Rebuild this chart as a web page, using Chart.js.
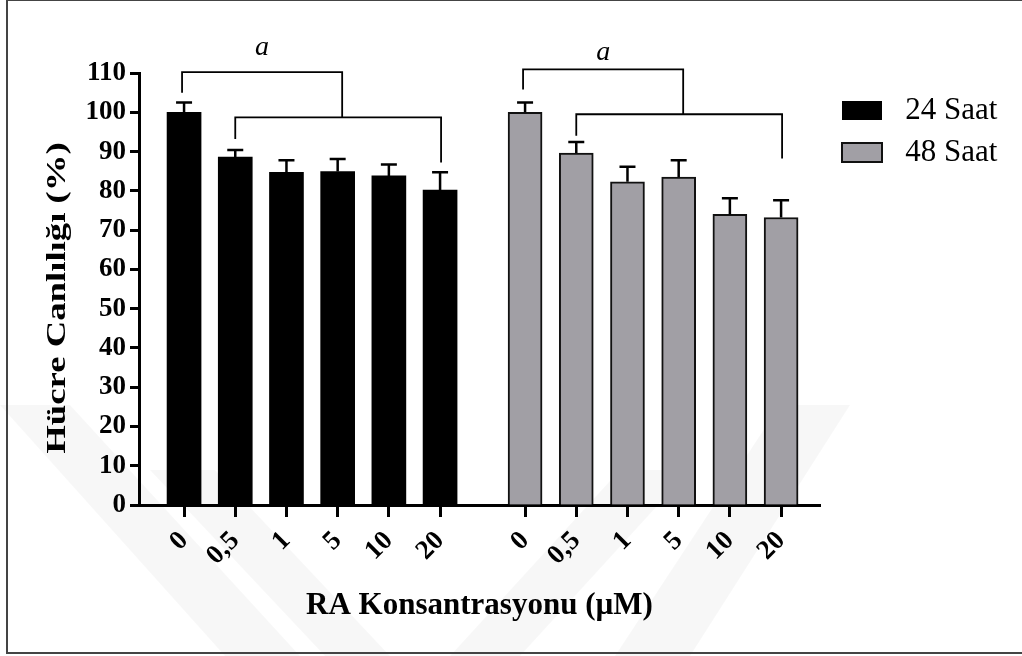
<!DOCTYPE html>
<html>
<head>
<meta charset="utf-8">
<script src="https://cdn.jsdelivr.net/npm/chart.js@4.4.1/dist/chart.umd.min.js"></script>
<style>
  html, body { margin: 0; padding: 0; background: #fff; }
  canvas { display: block; }
</style>
</head>
<body>
<canvas id="chart" width="1022" height="656"></canvas>
<script>
// RA concentrations (µM) tested at each time point
const concentrations = ['0', '0,5', '1', '5', '10', '20'];
const seriesNames = ['24 Saat', '48 Saat'];

// Cell viability (%) and standard deviation
const viability24 = [100, 88.6, 84.7, 84.9, 83.8, 80.2];
const sd24 = [2.5, 1.8, 3.1, 3.2, 2.9, 4.5];
const viability48 = [100, 89.6, 82.3, 83.5, 74.0, 73.2];
const sd48 = [2.5, 2.8, 3.8, 4.3, 4.1, 4.4];

const yTicks = [0, 10, 20, 30, 40, 50, 60, 70, 80, 90, 100, 110];

// Significance brackets (value units):
// [outer line, control leg end, inner line, inner left leg end, inner right leg end, label baseline]
const bracket24 = [110.2, 105.0, 98.7, 93.2, 87.2, 114.6];
const bracket48 = [110.9, 105.8, 99.5, 94.0, 88.2, 113.4];
const sigLabel = 'a';

const FONT = "'Liberation Serif', 'Times New Roman', Times, serif";
const GROUP_GAP = 0.66;
const slot = (g, i) => g * (concentrations.length + GROUP_GAP) + i;

const tickPositions = [];
const tickLabels = [];
[0, 1].forEach(g => concentrations.forEach((c, i) => {
  tickPositions.push(slot(g, i));
  tickLabels.push(c);
}));
const toPoints = (g, vals) => vals.map((v, i) => ({ x: slot(g, i), y: v }));

// white page, faint watermark and the outer frame
const pageBackground = {
  id: 'pageBackground',
  beforeDraw(chart) {
    const ctx = chart.ctx;
    ctx.save();
    ctx.fillStyle = '#fff';
    ctx.fillRect(0, 0, chart.width, chart.height);
    ctx.fillStyle = 'rgba(0,0,0,0.03)';
    const bands = [
      [[0, 405], [70, 405], [300, 656], [225, 656]],
      [[150, 470], [215, 470], [390, 656], [325, 656]],
      [[780, 405], [850, 405], [690, 656], [615, 656]],
      [[620, 470], [690, 470], [520, 656], [450, 656]]
    ];
    bands.forEach(p => {
      ctx.beginPath();
      ctx.moveTo(p[0][0], p[0][1]);
      for (let k = 1; k < p.length; k++) ctx.lineTo(p[k][0], p[k][1]);
      ctx.closePath();
      ctx.fill();
    });
    ctx.strokeStyle = '#444';
    ctx.lineWidth = 2;
    ctx.strokeRect(7, 0, 1040, 653);
    ctx.restore();

    // y axis title is drawn stretched along its length
    const ys = chart.scales.y;
    if (ys && !ys._wideTitle) {
      ys.drawTitle = function () {
        const c = this.ctx;
        const t = this.options.title;
        const f = Chart.helpers.toFont(t.font);
        c.save();
        c.translate(this.left + f.lineHeight / 2, (this.top + this.bottom) / 2 + 9);
        c.rotate(-Math.PI / 2);
        c.scale(1.36, 1);
        c.font = f.string;
        c.fillStyle = t.color;
        c.textAlign = 'center';
        c.textBaseline = 'middle';
        c.fillText(t.text, 0, 0);
        c.restore();
      };
      ys._wideTitle = true;
    }
  }
};

// SD error bars (upper whisker only)
const errorBars = {
  id: 'errorBars',
  afterDatasetsDraw(chart) {
    const { ctx, scales: { y } } = chart;
    ctx.save();
    ctx.strokeStyle = '#000';
    ctx.lineWidth = 2.5;
    chart.data.datasets.forEach((ds, di) => {
      chart.getDatasetMeta(di).data.forEach((bar, i) => {
        const top = y.getPixelForValue(ds.data[i].y + ds.errors[i]);
        ctx.beginPath();
        ctx.moveTo(bar.x, bar.y);
        ctx.lineTo(bar.x, top);
        ctx.moveTo(bar.x - 8, top);
        ctx.lineTo(bar.x + 8, top);
        ctx.stroke();
      });
    });
    ctx.restore();
  }
};

// significance brackets with label
const brackets = {
  id: 'brackets',
  afterDatasetsDraw(chart) {
    const { ctx, scales: { y } } = chart;
    ctx.save();
    ctx.strokeStyle = '#000';
    ctx.lineWidth = 1.8;
    [bracket24, bracket48].forEach((b, di) => {
      const bars = chart.getDatasetMeta(di).data;
      const x0 = bars[0].x - 2, x1 = bars[1].x, xn = bars[bars.length - 1].x + 1;
      const mid = (x1 + xn) / 2 + 4;
      const [outer, leg0, inner, leg1, legN, labelY] = b.map(v => y.getPixelForValue(v));
      ctx.beginPath();
      ctx.moveTo(x0, leg0);
      ctx.lineTo(x0, outer);
      ctx.lineTo(mid, outer);
      ctx.lineTo(mid, inner);
      ctx.moveTo(x1, leg1);
      ctx.lineTo(x1, inner);
      ctx.lineTo(xn, inner);
      ctx.lineTo(xn, legN);
      ctx.stroke();
      ctx.fillStyle = '#000';
      ctx.font = 'italic 28px ' + FONT;
      ctx.textAlign = 'center';
      ctx.textBaseline = 'alphabetic';
      ctx.fillText(sigLabel, (x0 + mid) / 2, labelY);
    });
    ctx.restore();
  },
  afterLayout(chart) {
    // legend sits to the right of the plot, beside the top of the bars
    const lg = chart.legend;
    if (!lg) return;
    const w = lg.width, h = lg.height;
    lg.left = 831; lg.top = 84;
    lg.right = lg.left + w; lg.bottom = lg.top + h;
  }
};

new Chart(document.getElementById('chart'), {
  type: 'bar',
  data: {
    datasets: [
      { label: seriesNames[0], data: toPoints(0, viability24), errors: sd24,
        backgroundColor: '#000', borderColor: '#000', borderWidth: 0 },
      { label: seriesNames[1], data: toPoints(1, viability48), errors: sd48,
        backgroundColor: '#a19fa5', borderColor: '#111', borderWidth: 2 }
    ]
  },
  options: {
    responsive: false,
    animation: false,
    devicePixelRatio: 1,
    layout: { padding: { left: 42, top: 73, right: 202, bottom: 31 } },
    datasets: { bar: { grouped: false, barThickness: 34 } },
    scales: {
      x: {
        type: 'linear',
        offset: false,
        min: -0.88,
        max: 12.42,
        afterBuildTicks: s => { s.ticks = tickPositions.map(v => ({ value: v })); },
        afterFit: s => { s.height = 120; },
        ticks: {
          autoSkip: false, minRotation: 45, maxRotation: 45, padding: 8,
          color: '#000', font: { family: FONT, size: 27, weight: 'bold' },
          callback: (v, i) => tickLabels[i]
        },
        grid: { offset: false, drawOnChartArea: false, drawTicks: true, tickLength: 12, tickWidth: 3, tickColor: '#000' },
        border: { display: true, color: '#000', width: 3 },
        title: { display: true, text: 'RA Konsantrasyonu (µM)', color: '#000',
                 font: { family: FONT, size: 31, weight: 'bold' }, padding: 0 }
      },
      y: {
        min: 0,
        max: 110,
        afterBuildTicks: s => { s.ticks = yTicks.map(v => ({ value: v })); },
        afterFit: s => { s.width = 97; },
        ticks: { color: '#000', padding: 4, font: { family: FONT, size: 27, weight: 'bold' } },
        grid: { drawOnChartArea: false, drawTicks: true, tickLength: 9, tickWidth: 3, tickColor: '#000' },
        border: { display: true, color: '#000', width: 3 },
        title: { display: true, text: 'Hücre Canlılığı (%)', color: '#000',
                 font: { family: FONT, size: 27, weight: 'bold' }, padding: 0 }
      }
    },
    plugins: {
      legend: {
        position: 'chartArea',
        align: 'start',
        labels: {
          boxWidth: 40, boxHeight: 19, padding: 11, color: '#000',
          font: { family: FONT, size: 31 },
          generateLabels: chart => Chart.defaults.plugins.legend.labels.generateLabels(chart)
            .map(item => Object.assign(item, { text: ' ' + item.text }))
        }
      },
      tooltip: { enabled: false }
    }
  },
  plugins: [pageBackground, errorBars, brackets]
});
</script>
</body>
</html>
